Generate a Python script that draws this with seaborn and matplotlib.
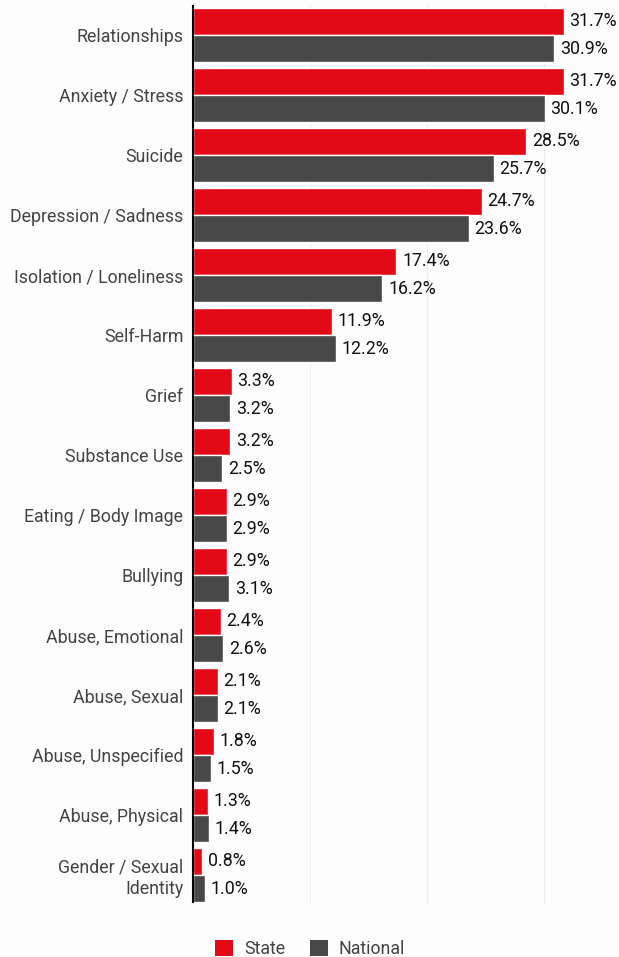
import matplotlib
matplotlib.use("Agg")
import matplotlib.pyplot as plt
import seaborn as sns
import pandas as pd
from matplotlib.patches import Patch

categories = ["Relationships", "Anxiety / Stress", "Suicide", "Depression / Sadness",
              "Isolation / Loneliness", "Self-Harm", "Grief", "Substance Use",
              "Eating / Body Image", "Bullying", "Abuse, Emotional", "Abuse, Sexual",
              "Abuse, Unspecified", "Abuse, Physical", "Gender / Sexual\nIdentity"]
state = [31.7, 31.7, 28.5, 24.7, 17.4, 11.9, 3.3, 3.2, 2.9, 2.9, 2.4, 2.1, 1.8, 1.3, 0.8]
national = [30.9, 30.1, 25.7, 23.6, 16.2, 12.2, 3.2, 2.5, 2.9, 3.1, 2.6, 2.1, 1.5, 1.4, 1.0]
series = ["State", "National"]
colors = ["#e20a17", "#484848"]

df = pd.DataFrame({
    "Category": categories * 2,
    "Value": state + national,
    "Series": [series[0]] * len(categories) + [series[1]] * len(categories),
})

sns.set_theme(style="white")
plt.rcParams["font.family"] = ["Roboto", "DejaVu Sans"]
bg = "#fdfdfd"
fig = plt.figure(figsize=(6.19, 9.57), dpi=100, facecolor=bg)
ax = fig.add_axes([193/619, 1 - 905/957, (614-193)/619, 900/957])
ax.set_facecolor(bg)

sns.barplot(data=df, y="Category", x="Value", hue="Series", order=categories,
            hue_order=series, palette=colors, saturation=1, orient="h", width=0.9,
            edgecolor=bg, linewidth=1, legend=False, ax=ax)

for cont in ax.containers:
    ax.bar_label(cont, labels=[f"{v:.1f}%" for v in cont.datavalues], padding=4,
                 fontsize=12.8, color="#111111")

ax.set_xlim(0, 36)
ax.set_ylim(14.5, -0.5)
ax.set_xticks([10, 20, 30])
ax.xaxis.grid(True, color="#eeeeee", linewidth=0.8)
ax.set_axisbelow(True)
ax.tick_params(axis="x", length=0, labelbottom=False)
ax.tick_params(axis="y", length=0, labelsize=12.8, labelcolor="#444444", pad=7)
for lbl in ax.get_yticklabels():
    lbl.set_linespacing(1.2)
ax.set_xlabel("")
ax.set_ylabel("")
for s in ["top", "right", "bottom"]:
    ax.spines[s].set_visible(False)
ax.spines["left"].set_color("#000000")
ax.spines["left"].set_linewidth(1.5)
ax.spines["left"].set_bounds(14.45, -0.48)

handles = [Patch(facecolor=c, edgecolor="none", label=s) for s, c in zip(series, colors)]
fig.legend(handles=handles, loc="center", bbox_to_anchor=(310/619, 1 - 949/957),
           ncol=2, frameon=False, fontsize=12.8, handlelength=1.0, handleheight=1.0,
           columnspacing=1.4, handletextpad=0.6, labelcolor="#444444")

fig.savefig("out.png", dpi=100, facecolor=bg)
